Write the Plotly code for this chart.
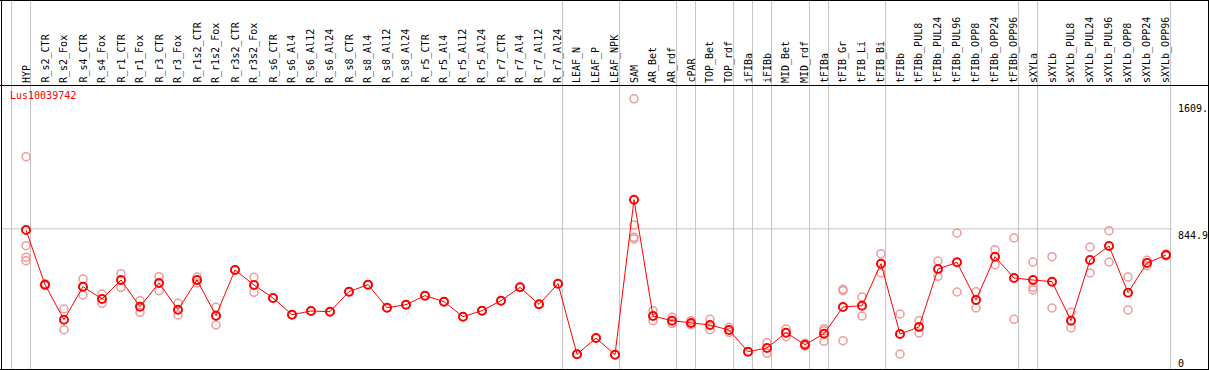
import plotly.graph_objects as go

categories = ["HYP", "R_s2_CTR", "R_s2_Fox", "R_s4_CTR", "R_s4_Fox", "R_r1_CTR", "R_r1_Fox",
              "R_r3_CTR", "R_r3_Fox", "R_r1s2_CTR", "R_r1s2_Fox", "R_r3s2_CTR", "R_r3s2_Fox",
              "R_s6_CTR", "R_s6_Al4", "R_s6_Al12", "R_s6_Al24", "R_s8_CTR", "R_s8_Al4",
              "R_s8_Al12", "R_s8_Al24", "R_r5_CTR", "R_r5_Al4", "R_r5_Al12", "R_r5_Al24",
              "R_r7_CTR", "R_r7_Al4", "R_r7_Al12", "R_r7_Al24", "LEAF_N", "LEAF_P", "LEAF_NPK",
              "SAM", "AR_Bet", "AR_rdf", "cPAR", "TOP_Bet", "TOP_rdf", "iFIBa", "iFIBb",
              "MID_Bet", "MID_rdf", "tFIBa", "tFIB_Gr", "tFIB_Li", "tFIB_Bi", "tFIBb",
              "tFIBb_PUL8", "tFIBb_PUL24", "tFIBb_PUL96", "tFIBb_OPP8", "tFIBb_OPP24",
              "tFIBb_OPP96", "sXYLa", "sXYLb", "sXYLb_PUL8", "sXYLb_PUL24", "sXYLb_PUL96",
              "sXYLb_OPP8", "sXYLb_OPP24", "sXYLb_OPP96"]

means = [838, 510, 300, 498, 424, 538, 378, 520, 360, 538, 324, 598, 508,
         430, 330, 352, 348, 468, 510, 372, 390, 444, 408, 318, 354, 414, 494, 392, 516,
         92, 190, 90,
         1020, 322, 294, 280, 268, 238, 108, 130, 222, 150, 216, 376, 384, 636,
         214, 256, 604, 644, 418, 678, 550,
         538, 528, 294, 658, 742, 462, 640, 688]

replicates = [[1278, 744, 674, 654], [505, 515], [364, 240], [544, 448], [454, 398],
              [576, 494], [414, 344], [558, 474], [398, 328], [556, 520], [374, 268],
              [598], [554, 464],
              [430], [330], [352], [348], [468], [510], [372], [390], [444], [408], [318],
              [354], [414], [494], [392], [516],
              [92], [190], [90],
              [1625, 868, 794, 784], [354, 294], [314, 278], [294, 270], [302, 240],
              [254, 224], [108], [162, 98], [244, 198], [158, 142], [246, 234, 170],
              [482, 474, 174], [436, 322], [696, 580],
              [334, 94], [294, 220], [652, 560], [820, 466], [468, 370], [720, 630],
              [790, 302],
              [646, 494, 478], [678, 370], [344, 250], [736, 580], [834, 646], [556, 358],
              [656, 624], [694, 682]]

# last category index of each group (-1 = start boundary)
group_ends = [-1, 0, 28, 31, 34, 35, 37, 38, 39, 41, 42, 45, 52, 53, 60]

gene = "Lus10039742"
ref_value = 844.9
ytick_vals = [1609, 844.9, 0]
ytick_text = ["1609.", "844.9", "0"]

W, H = 1209, 370
x0_px, step_px = 26, 19
xr = [-x0_px / step_px, (W - x0_px) / step_px]
per_px = 6.0
ymin = -2
yr = [ymin, ymin + H * per_px]

def py(p):  # pixel from top -> paper
    return 1 - p / H

def px(p):
    return p / W

rx, ry = [], []
for i, reps in enumerate(replicates):
    for v in reps:
        rx.append(i)
        ry.append(v)

fig = go.Figure()
fig.add_trace(go.Scatter(x=rx, y=ry, mode="markers",
                         marker=dict(symbol="circle-open", size=8, color="#f09a9a",
                                     line=dict(width=1.5, color="#f09a9a")),
                         hoverinfo="skip", showlegend=False))
fig.add_trace(go.Scatter(x=list(range(len(categories))), y=means, mode="lines+markers",
                         line=dict(color="#ff0000", width=1),
                         marker=dict(symbol="circle-open", size=8, color="#ff0000",
                                     line=dict(width=2, color="#ff0000")),
                         text=categories, showlegend=False))

shapes = []
grey = "#c4c4c4"
for g in group_ends:
    shapes.append(dict(type="line", xref="x", yref="paper", x0=g + 0.24, x1=g + 0.24,
                       y0=0, y1=1, line=dict(color=grey, width=1), layer="below"))
shapes.append(dict(type="line", xref="paper", yref="y", x0=px(1.5), x1=px(1172),
                   y0=ref_value, y1=ref_value, line=dict(color=grey, width=1), layer="below"))
black = "#000000"
for yy in [0.5, 85.5, 369.5]:
    shapes.append(dict(type="line", xref="paper", yref="paper", x0=0, x1=1,
                       y0=py(yy), y1=py(yy), line=dict(color=black, width=1)))
for xx in [1.5, 1208.5]:
    shapes.append(dict(type="line", xref="paper", yref="paper", x0=px(xx), x1=px(xx),
                       y0=0, y1=1, line=dict(color=black, width=1)))

mono = "DejaVu Sans Mono"
annotations = []
for i, c in enumerate(categories):
    annotations.append(dict(x=i, xref="x", y=py(84), yref="paper", text=c, textangle=-90,
                            showarrow=False, xanchor="center", yanchor="bottom",
                            font=dict(family=mono, size=10, color="black"),
                            borderpad=0))
annotations.append(dict(x=px(9), xref="paper", y=py(89), yref="paper", text=gene,
                        showarrow=False, xanchor="left", yanchor="top",
                        font=dict(family=mono, size=10, color="#ff0000"), borderpad=0))
for v, t in zip(ytick_vals, ytick_text):
    annotations.append(dict(x=px(1177), xref="paper", y=v, yref="y", text=t,
                            showarrow=False, xanchor="left",
                            yanchor="bottom" if v == 0 else "top",
                            font=dict(family=mono, size=10, color="black"), borderpad=0))

fig.update_layout(width=W, height=H, margin=dict(l=0, r=0, t=0, b=0),
                  paper_bgcolor="white", plot_bgcolor="white",
                  xaxis=dict(range=xr, visible=False, fixedrange=True),
                  yaxis=dict(range=yr, visible=False, fixedrange=True),
                  shapes=shapes, annotations=annotations)
fig.write_html("out.html", config={"displayModeBar": False},
               post_script="document.body.style.margin='0';document.body.style.overflow='hidden';")
